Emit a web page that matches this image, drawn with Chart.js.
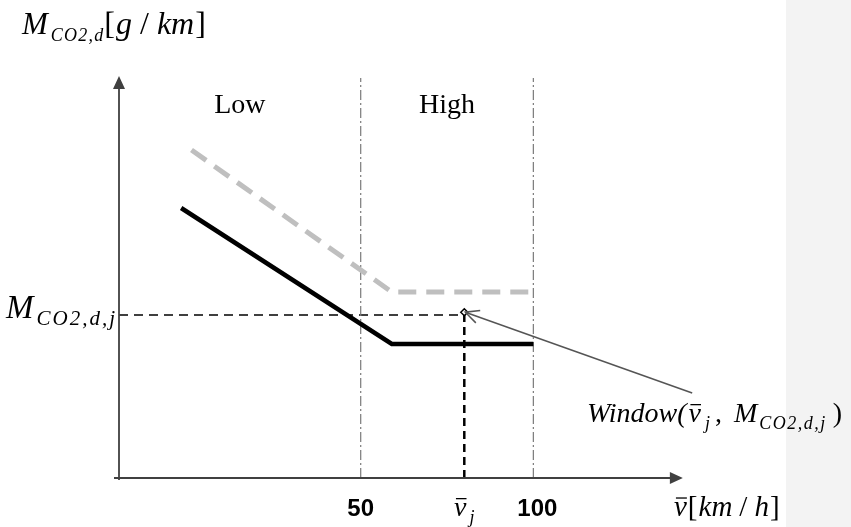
<!DOCTYPE html>
<html lang="en">
<head>
  <meta charset="UTF-8" />
  <title>CO2 emission per km vs. mean speed</title>
  <script src="https://cdn.jsdelivr.net/npm/chart.js"></script>
  <style>
    html, body { margin: 0; padding: 0; background: #fff; }
    #wrap { width: 851px; height: 527px; position: relative; }
  </style>
</head>
<body>
  <div id="wrap"><canvas id="grafico"></canvas></div>
  <script>
    // curves (speed, emission)
    const lowerSpeed = [-2, 59, 100];
    const lowerEmission = [67.5, 33.5, 33.5];
    const upperSpeed = [1, 59, 100];
    const upperEmission = [82, 46.5, 46.5];

    // speed zones
    const zoneBounds = [50, 100];
    const zoneNames = ['Low', 'High'];

    // the window point
    const vMean = 80;
    const mWindow = 40.75;
    const calloutStart = [146, 21.25];

    // x tick labels
    const tickValues = [50, 80, 100];
    const tickLabels = ['50', 'vj', '100'];

    const xMin = -20, xMax = 150, yMin = 0, yMax = 100;

    const pts = (xs, ys) => xs.map((x, i) => ({ x: x, y: ys[i] }));
    const serif = '"Liberation Serif", "DejaVu Serif", serif';

    // text pieces: italic, size, subscript shift, letter spacing, overbar
    function pieceWidth(ctx, p) {
      ctx.font = (p.i ? 'italic ' : '') + p.s + 'px ' + serif;
      const ls = p.ls || 0;
      let w = 0;
      for (const ch of p.t) w += ctx.measureText(ch).width + ls;
      return ls ? w : ctx.measureText(p.t).width;
    }
    function runWidth(ctx, parts) {
      return parts.reduce((w, p) => w + pieceWidth(ctx, p) + (p.gap || 0), 0);
    }
    function drawRun(ctx, x, y, parts) {
      parts.forEach(p => {
        const w = pieceWidth(ctx, p);
        ctx.font = (p.i ? 'italic ' : '') + p.s + 'px ' + serif;
        if (p.ls) {
          let cx = x;
          for (const ch of p.t) {
            ctx.fillText(ch, cx, y + (p.dy || 0));
            cx += ctx.measureText(ch).width + p.ls;
          }
        } else {
          ctx.fillText(p.t, x, y + (p.dy || 0));
        }
        if (p.bar) {
          ctx.save();
          ctx.lineWidth = 1.3;
          ctx.beginPath();
          ctx.moveTo(x + w * 0.15, y - p.s * 0.62);
          ctx.lineTo(x + w * 1.0, y - p.s * 0.62);
          ctx.stroke();
          ctx.restore();
        }
        x += w + (p.gap || 0);
      });
    }
    const sub = (t, ls, s) => ({ t: t, i: true, s: s || 18, dy: 7, ls: ls || 0 });

    const decor = {
      id: 'decor',
      beforeDraw(chart) {
        const ctx = chart.ctx;
        ctx.save();
        ctx.fillStyle = '#ffffff';
        ctx.fillRect(0, 0, chart.width, chart.height);
        ctx.fillStyle = '#f3f3f3';
        ctx.fillRect(786, 0, chart.width - 786, chart.height);
        ctx.restore();
      },
      afterDatasetsDraw(chart) {
        const ctx = chart.ctx;
        const xs = chart.scales.x, ys = chart.scales.y;
        const X = v => xs.getPixelForValue(v), Y = v => ys.getPixelForValue(v);
        ctx.save();

        // axes with arrow heads
        const ox = X(xMin), oy = Y(0);
        const xEnd = X(143.3), yEnd = Y(100.5);
        ctx.strokeStyle = '#404040';
        ctx.fillStyle = '#404040';
        ctx.lineWidth = 1.8;
        ctx.beginPath();
        ctx.moveTo(ox - 5, oy); ctx.lineTo(xEnd - 10, oy);
        ctx.moveTo(ox, oy + 2); ctx.lineTo(ox, yEnd + 10);
        ctx.stroke();
        ctx.beginPath();
        ctx.moveTo(xEnd, oy); ctx.lineTo(xEnd - 13, oy - 6); ctx.lineTo(xEnd - 13, oy + 6); ctx.closePath();
        ctx.moveTo(ox, yEnd); ctx.lineTo(ox - 6, yEnd + 13); ctx.lineTo(ox + 6, yEnd + 13); ctx.closePath();
        ctx.fill();

        // callout arrow head at the window point
        const tx = X(vMean) + 1, ty = Y(mWindow + 0.7);
        const ang = Math.atan2(Y(calloutStart[1]) - ty, X(calloutStart[0]) - tx);
        ctx.strokeStyle = '#555555';
        ctx.lineWidth = 1.5;
        ctx.beginPath();
        ctx.moveTo(tx + 15 * Math.cos(ang - 0.45), ty + 15 * Math.sin(ang - 0.45));
        ctx.lineTo(tx, ty);
        ctx.lineTo(tx + 15 * Math.cos(ang + 0.45), ty + 15 * Math.sin(ang + 0.45));
        ctx.stroke();

        // texts
        ctx.fillStyle = '#000000';
        ctx.strokeStyle = '#000000';
        ctx.textBaseline = 'alphabetic';
        ctx.textAlign = 'left';

        // zone names
        ctx.font = '28px ' + serif;
        ctx.textAlign = 'center';
        const edges = [xMin].concat(zoneBounds);
        zoneNames.forEach((n, i) => {
          ctx.fillText(n, X((edges[i] + edges[i + 1]) / 2), Y(93.75) + 10);
        });
        ctx.textAlign = 'left';

        // y axis title
        drawRun(ctx, 22, 34, [
          { t: 'M', i: true, s: 31, gap: 3 }, sub('CO2,d', 1.2),
          { t: '[', s: 32, gap: 1 }, { t: 'g', i: true, s: 32, gap: 8 }, { t: '/', s: 32, gap: 8 },
          { t: 'km', i: true, s: 32, gap: 1 }, { t: ']', s: 32 }
        ]);

        // level of the window on the y axis
        drawRun(ctx, 6, 318, [{ t: 'M', i: true, s: 33, gap: 3 }, sub('CO2,d,j', 2, 21)]);

        // window label
        drawRun(ctx, 587, 422, [
          { t: 'Window(', i: true, s: 28, gap: 2 }, { t: 'v', i: true, s: 28, bar: true, gap: 4 }, Object.assign(sub('j'), { gap: 5 }),
          { t: ',', s: 28, gap: 12 }, { t: 'M', i: true, s: 28, gap: 2 }, Object.assign(sub('CO2,d,j', 1.5), { gap: 6 }),
          { t: ')', s: 28 }
        ]);

        // x ticks
        tickValues.forEach((v, i) => {
          const lab = tickLabels[i];
          if (lab === 'vj') {
            const parts = [{ t: 'v', i: true, s: 28, bar: true, gap: 3 }, sub('j')];
            drawRun(ctx, X(v) - runWidth(ctx, parts) / 2, 516, parts);
          } else {
            ctx.font = 'bold 24px "Liberation Sans", Arial, sans-serif';
            ctx.textAlign = 'center';
            ctx.fillText(lab, X(v) + (lab.length > 2 ? 4 : 0), 516);
            ctx.textAlign = 'left';
          }
        });

        // x axis title
        drawRun(ctx, 674, 516, [
          { t: 'v', i: true, s: 29, bar: true, gap: 1 }, { t: '[', s: 29, gap: 1 }, { t: 'km', i: true, s: 29, gap: 7 },
          { t: '/', s: 29, gap: 7 }, { t: 'h', i: true, s: 29, gap: 1 }, { t: ']', s: 29 }
        ]);

        ctx.restore();
      }
    };

    const ctx = document.getElementById('grafico').getContext('2d');
    new Chart(ctx, {
      type: 'scatter',
      data: {
        datasets: [
          {
            label: 'upper',
            data: pts(upperSpeed, upperEmission),
            showLine: true,
            borderColor: '#bfbfbf',
            borderWidth: 5,
            borderDash: [18, 10],
            pointRadius: 0
          },
          {
            label: 'lower',
            data: pts(lowerSpeed, lowerEmission),
            showLine: true,
            borderColor: '#000000',
            borderWidth: 4.5,
            pointRadius: 0
          },
          ...zoneBounds.map(b => ({
            label: 'bound ' + b,
            data: pts([b, b], [yMin, yMax]),
            showLine: true,
            borderColor: '#7a7a7a',
            borderWidth: 1.2,
            borderDash: [10, 3, 2, 3],
            pointRadius: 0
          })),
          {
            label: 'level',
            data: pts([xMin, vMean], [mWindow, mWindow]),
            showLine: true,
            borderColor: '#000000',
            borderWidth: 1.5,
            borderDash: [9, 6],
            pointRadius: 0
          },
          {
            label: 'speed',
            data: pts([vMean, vMean], [yMin, mWindow]),
            showLine: true,
            borderColor: '#000000',
            borderWidth: 2.5,
            borderDash: [8, 5],
            pointRadius: 0
          },
          {
            label: 'callout',
            data: pts([calloutStart[0], vMean + 0.3], [calloutStart[1], mWindow + 0.7]),
            showLine: true,
            borderColor: '#555555',
            borderWidth: 1.5,
            pointRadius: 0,
            clip: false
          },
          {
            label: 'window',
            data: pts([vMean], [mWindow + 0.7]),
            pointStyle: 'rectRot',
            pointRadius: 3.5,
            pointBackgroundColor: '#ffffff',
            pointBorderColor: '#000000',
            pointBorderWidth: 1.5
          }
        ]
      },
      options: {
        responsive: true,
        maintainAspectRatio: false,
        animation: false,
        layout: { padding: { left: 119, right: 145, top: 78, bottom: 49 } },
        plugins: { legend: { display: false }, tooltip: { enabled: false }, title: { display: false } },
        scales: {
          x: { type: 'linear', min: xMin, max: xMax, display: false },
          y: { type: 'linear', min: yMin, max: yMax, display: false }
        }
      },
      plugins: [decor]
    });
  </script>
</body>
</html>
